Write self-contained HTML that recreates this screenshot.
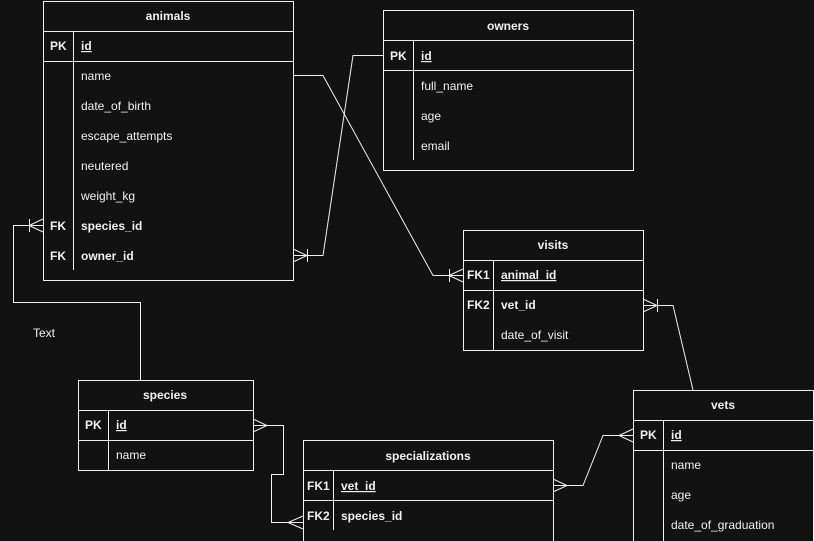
<!DOCTYPE html>
<html><head><meta charset="utf-8"><style>
html,body{margin:0;padding:0;background:#121212;}
svg{display:block;}
text{font-family:"Liberation Sans",sans-serif;font-size:12px;fill:#f0f0f0;}
.b{font-weight:bold;}
.h{font-weight:bold;text-anchor:middle;}
</style></head><body>
<svg width="814" height="541" viewBox="0 0 814 541" xmlns="http://www.w3.org/2000/svg">
<rect width="814" height="541" fill="#121212"/>
<g fill="none" stroke="#f0f0f0" stroke-width="1">
<!-- animals -->
<rect x="43.5" y="1.5" width="250" height="279"/>
<line x1="43" y1="31.5" x2="293" y2="31.5"/><line x1="43" y1="61.5" x2="293" y2="61.5"/>
<line x1="73.5" y1="31" x2="73.5" y2="270"/>
<!-- owners -->
<rect x="383.5" y="10.5" width="250" height="160"/>
<line x1="383" y1="40.5" x2="633" y2="40.5"/><line x1="383" y1="70.5" x2="633" y2="70.5"/>
<line x1="413.5" y1="40" x2="413.5" y2="160"/>
<!-- visits -->
<rect x="463.5" y="230.5" width="180" height="120"/>
<line x1="463" y1="260.5" x2="643" y2="260.5"/><line x1="463" y1="290.5" x2="643" y2="290.5"/>
<line x1="493.5" y1="260" x2="493.5" y2="350"/>
<!-- species -->
<rect x="78.5" y="380.5" width="175" height="90"/>
<line x1="78" y1="410.5" x2="253" y2="410.5"/><line x1="78" y1="440.5" x2="253" y2="440.5"/>
<line x1="108.5" y1="410" x2="108.5" y2="470"/>
<!-- specializations -->
<rect x="303.5" y="440.5" width="250" height="110"/>
<line x1="303" y1="470.5" x2="553" y2="470.5"/><line x1="303" y1="500.5" x2="553" y2="500.5"/>
<line x1="333.5" y1="470" x2="333.5" y2="530"/>
<!-- vets -->
<rect x="633.5" y="390.5" width="180" height="160"/>
<line x1="633" y1="420.5" x2="813" y2="420.5"/><line x1="633" y1="450.5" x2="813" y2="450.5"/>
<line x1="663.5" y1="420" x2="663.5" y2="541"/>
<!-- connectors -->
<polyline points="293,75.5 323,75.5 433,275.5 463,275.5"/>
<line x1="449.5" y1="269" x2="449.5" y2="282"/><polyline points="463,269 449,275.5 463,282"/>
<polyline points="383,55.5 353,55.5 323,255.5 293,255.5"/>
<line x1="307.5" y1="249" x2="307.5" y2="262"/><polyline points="293,249 307,255.5 293,262"/>
<polyline points="43,225.5 13.5,225.5 13.5,302.5 140.5,302.5 140.5,380.5 110,380.5"/>
<line x1="29.5" y1="219" x2="29.5" y2="232"/><polyline points="43,219 29,225.5 43,232"/>
<polyline points="253,425.5 283.5,425.5 283.5,474.5 271.5,474.5 271.5,522.5 303,522.5"/>
<polyline points="253,419 267,425.5 253,432"/>
<polyline points="303,516 288,522.5 303,529"/>
<polyline points="633,435.5 603,435.5 583,485.5 553,485.5"/>
<polyline points="633,429 619,435.5 633,442"/>
<polyline points="553,479 567,485.5 553,492"/>
<polyline points="643,305.5 673,305.5 693,390"/>
<line x1="657.5" y1="299" x2="657.5" y2="312"/><polyline points="643,299 657,305.5 643,312"/>
</g>
<text class="h" x="168" y="20">animals</text>
<text class="b" x="50" y="50">PK</text><text class="b" x="81" y="50" text-decoration="underline">id</text>
<text x="81" y="80">name</text><text x="81" y="110">date_of_birth</text><text x="81" y="140">escape_attempts</text>
<text x="81" y="170">neutered</text><text x="81" y="200">weight_kg</text>
<text class="b" x="50" y="230">FK</text><text class="b" x="81" y="230">species_id</text>
<text class="b" x="50" y="260">FK</text><text class="b" x="81" y="260">owner_id</text>
<text class="h" x="508" y="30">owners</text>
<text class="b" x="390" y="60">PK</text><text class="b" x="421" y="60" text-decoration="underline">id</text>
<text x="421" y="90">full_name</text><text x="421" y="120">age</text><text x="421" y="150">email</text>
<text class="h" x="553" y="249">visits</text>
<text class="b" x="467" y="279">FK1</text><text class="b" x="501" y="279" text-decoration="underline">animal_id</text>
<text class="b" x="467" y="309">FK2</text><text class="b" x="501" y="309">vet_id</text>
<text x="501" y="339">date_of_visit</text>
<text x="33" y="337">Text</text>
<text class="h" x="165" y="399">species</text>
<text class="b" x="85" y="429">PK</text><text class="b" x="116" y="429" text-decoration="underline">id</text>
<text x="116" y="459">name</text>
<text class="h" x="428" y="460">specializations</text>
<text class="b" x="307" y="490">FK1</text><text class="b" x="341" y="490" text-decoration="underline">vet_id</text>
<text class="b" x="307" y="520">FK2</text><text class="b" x="341" y="520">species_id</text>
<text class="h" x="723" y="409">vets</text>
<text class="b" x="640" y="439">PK</text><text class="b" x="671" y="439" text-decoration="underline">id</text>
<text x="671" y="469">name</text><text x="671" y="499">age</text><text x="671" y="529">date_of_graduation</text>
</svg>
</body></html>
